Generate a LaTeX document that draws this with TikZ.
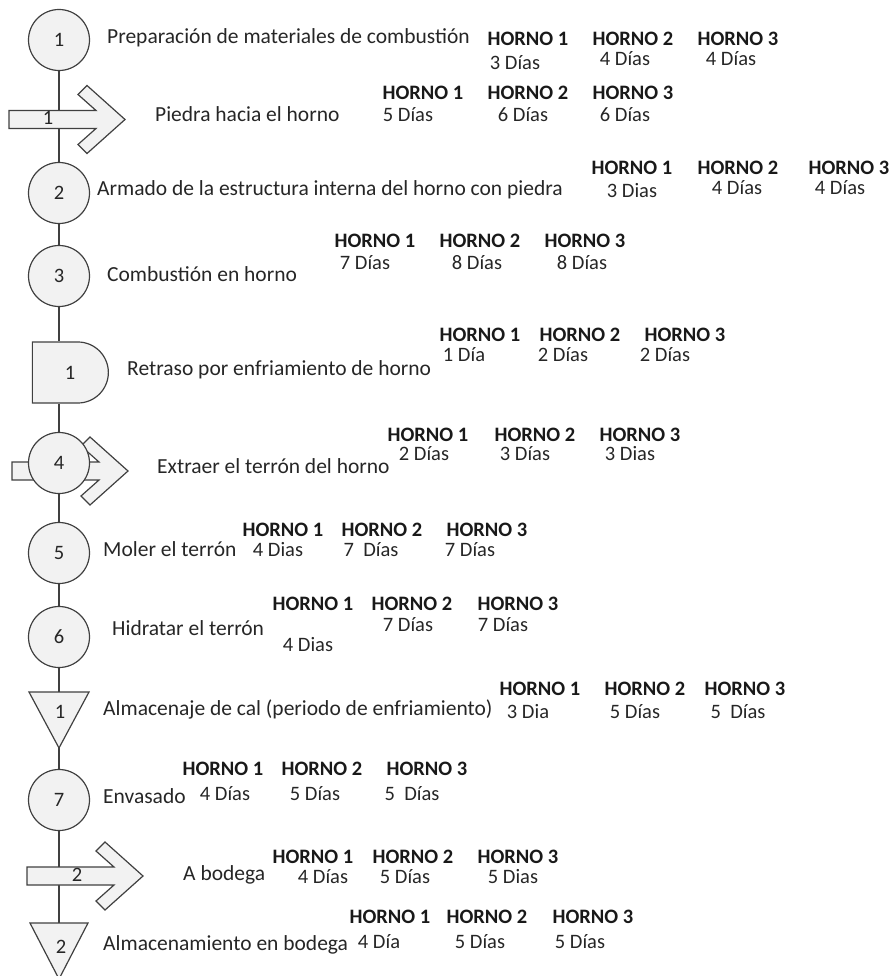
\documentclass[tikz,border=0pt]{standalone}
\usepackage{fontspec}
\setmainfont{Carlito}
\usetikzlibrary{shapes.misc}
\pgfdeclarelayer{bg}
\pgfsetlayers{bg,main}

\tikzset{
  symline/.style={draw=black!75, line width=1.2pt, fill=black!5},
  opcircle/.style={symline, circle, minimum size=61pt, inner sep=0pt,
    font=\fontsize{20.5}{24}\selectfont, text=black!85},
  delaybox/.style={symline, rounded rectangle, rounded rectangle left arc=none,
    minimum width=76pt, minimum height=61pt, inner sep=0pt,
    font=\fontsize{20.5}{24}\selectfont, text=black!85},
  symlabel/.style={inner sep=0pt, font=\fontsize{20.5}{24}\selectfont, text=black!85},
  conn/.style={draw=black!75, line width=1.2pt},
  desc/.style={anchor=west, inner sep=0pt, text height=0.64em, text depth=0pt,
    font=\fontsize{21.5}{25}\selectfont, text=black!85},
  hd/.style={inner sep=0pt, text height=0.64em, text depth=0pt,
    font=\fontsize{20.5}{24}\selectfont\bfseries, text=black!90},
  dd/.style={inner sep=0pt, text height=0.64em, text depth=0pt,
    font=\fontsize{20.5}{24}\selectfont, text=black!85},
}

% transport symbol: shaft with a chevron head, tip at the given point
\newcommand{\transportsym}[2]{%
  \path[symline, shift={(#1,#2)}]
    (-116,-9) -- (-29,-9) -- (-47,-25) -- (-38,-34) -- (0,0)
    -- (-38,34) -- (-47,25) -- (-29,9) -- (-116,9) -- cycle;}

\begin{document}
\begin{tikzpicture}[x=1pt, y=-1pt]
\useasboundingbox (0,0) rectangle (892,976);
\begin{scope}
\clip (0,0) rectangle (892,976);

% transport symbols
\transportsym{125}{119.5}
\transportsym{128}{471}
\transportsym{143}{876}
\node[symlabel] (a1) at (48,118) {1};
\node[symlabel] (a2) at (77,875) {2};

% operations, delay and storage
\node[opcircle] (c1) at (59,40) {1};
\node[opcircle] (c2) at (59,193) {2};
\node[opcircle] (c3) at (59,276) {3};
\node[delaybox] (d1) at (70,372.5) {1};
\node[opcircle] (c4) at (59,463) {4};
\node[opcircle] (c5) at (59,553) {5};
\node[opcircle] (c6) at (59,637) {6};
\path[symline] (29,692) -- (89,692) -- (59,748) -- cycle;
\coordinate (t1top) at (59,692);
\coordinate (t1bot) at (59,748);
\node[symlabel] (t1) at (60,712) {1};
\node[opcircle] (c7) at (59,800) {7};
\path[symline] (30,923) -- (88,923) -- (59,979) -- cycle;
\coordinate (t2top) at (59,923);
\node[symlabel] (t2) at (61,947) {2};

% vertical flow line
\begin{pgfonlayer}{bg}
  \draw[conn] (c1) -- (c2);
  \draw[conn] (c2) -- (c3);
  \draw[conn] (c3) -- (c3 |- d1.north);
  \draw[conn] (c4 |- d1.south) -- (c4);
  \draw[conn] (c4) -- (c5);
  \draw[conn] (c5) -- (c6);
  \draw[conn] (c6) -- (t1top);
  \draw[conn] (t1bot) -- (c7);
  \draw[conn] (c7) -- (t2top);
\end{pgfonlayer}
\end{scope}

% step descriptions
\node[desc] (s1) at (107,40) {Preparación de materiales de combustión};
\node[desc] (s2) at (155,118) {Piedra hacia el horno};
\node[desc] (s3) at (97,192) {Armado de la estructura interna del horno con piedra};
\node[desc] (s4) at (107,278) {Combustión en horno};
\node[desc] (s5) at (127,372) {Retraso por enfriamiento de horno};
\node[desc] (s6) at (157,470) {Extraer el terrón del horno};
\node[desc] (s7) at (103,553) {Moler el terrón};
\node[desc] (s8) at (112,632) {Hidratar el terrón};
\node[desc] (s9) at (103,712) {Almacenaje de cal (periodo de enfriamiento)};
\node[desc] (s10) at (103,800) {Envasado};
\node[desc] (s11) at (183,877) {A bodega};
\node[desc] (s12) at (103,947) {Almacenamiento en bodega};

% durations per kiln
\node[hd] (h1a) at (528,42) {HORNO 1};
\node[hd] (h1b) at (633,42) {HORNO 2};
\node[hd] (h1c) at (738,42) {HORNO 3};
\node[dd] (d1a) at (515,66) {3 Días};
\node[dd] (d1b) at (625,62) {4 Días};
\node[dd] (d1c) at (731,62) {4 Días};

\node[hd] (h2a) at (423,96) {HORNO 1};
\node[hd] (h2b) at (528,96) {HORNO 2};
\node[hd] (h2c) at (633,96) {HORNO 3};
\node[dd] (d2a) at (408,118) {5 Días};
\node[dd] (d2b) at (523,118) {6 Días};
\node[dd] (d2c) at (625,118) {6 Días};

\node[hd] (h3a) at (632,171) {HORNO 1};
\node[hd] (h3b) at (738,171) {HORNO 2};
\node[hd] (h3c) at (849,171) {HORNO 3};
\node[dd] (d3a) at (632,194) {3 Dias};
\node[dd] (d3b) at (737,191) {4 Días};
\node[dd] (d3c) at (840,191) {4 Días};

\node[hd] (h4a) at (375,244) {HORNO 1};
\node[hd] (h4b) at (480,244) {HORNO 2};
\node[hd] (h4c) at (585,244) {HORNO 3};
\node[dd] (d4a) at (365,266) {7 Días};
\node[dd] (d4b) at (477,266) {8 Días};
\node[dd] (d4c) at (582,266) {8 Días};

\node[hd] (h5a) at (480,338) {HORNO 1};
\node[hd] (h5b) at (580,338) {HORNO 2};
\node[hd] (h5c) at (685,338) {HORNO 3};
\node[dd] (d5a) at (464,358) {1 Día};
\node[dd] (d5b) at (563,358) {2 Días};
\node[dd] (d5c) at (665,358) {2 Días};

\node[hd] (h6a) at (428,438) {HORNO 1};
\node[hd] (h6b) at (535,438) {HORNO 2};
\node[hd] (h6c) at (640,438) {HORNO 3};
\node[dd] (d6a) at (424,457) {2 Días};
\node[dd] (d6b) at (525,457) {3 Días};
\node[dd] (d6c) at (630,457) {3 Dias};

\node[hd] (h7a) at (283,533) {HORNO 1};
\node[hd] (h7b) at (382,533) {HORNO 2};
\node[hd] (h7c) at (487,533) {HORNO 3};
\node[dd] (d7a) at (278,553) {4 Dias};
\node[dd] (d7b) at (371,553) {7~~Días};
\node[dd] (d7c) at (470,553) {7 Días};

\node[hd] (h8a) at (313,607) {HORNO 1};
\node[hd] (h8b) at (412,607) {HORNO 2};
\node[hd] (h8c) at (518,607) {HORNO 3};
\node[dd] (d8a) at (308,648) {4 Dias};
\node[dd] (d8b) at (408,628) {7 Días};
\node[dd] (d8c) at (503,628) {7 Días};

\node[hd] (h9a) at (540,692) {HORNO 1};
\node[hd] (h9b) at (645,692) {HORNO 2};
\node[hd] (h9c) at (745,692) {HORNO 3};
\node[dd] (d9a) at (528,715) {3 Dia};
\node[dd] (d9b) at (635,715) {5 Días};
\node[dd] (d9c) at (738,715) {5~~Días};

\node[hd] (h10a) at (223,772) {HORNO 1};
\node[hd] (h10b) at (322,772) {HORNO 2};
\node[hd] (h10c) at (427,772) {HORNO 3};
\node[dd] (d10a) at (225,797) {4 Días};
\node[dd] (d10b) at (315,797) {5 Días};
\node[dd] (d10c) at (412,797) {5~~Días};

\node[hd] (h11a) at (313,860) {HORNO 1};
\node[hd] (h11b) at (413,860) {HORNO 2};
\node[hd] (h11c) at (518,860) {HORNO 3};
\node[dd] (d11a) at (323,880) {4 Días};
\node[dd] (d11b) at (405,880) {5 Días};
\node[dd] (d11c) at (513,880) {5 Dias};

\node[hd] (h12a) at (390,920) {HORNO 1};
\node[hd] (h12b) at (487,920) {HORNO 2};
\node[hd] (h12c) at (593,920) {HORNO 3};
\node[dd] (d12a) at (379,945) {4 Día};
\node[dd] (d12b) at (480,945) {5 Días};
\node[dd] (d12c) at (580,945) {5 Días};
\end{tikzpicture}
\end{document}
